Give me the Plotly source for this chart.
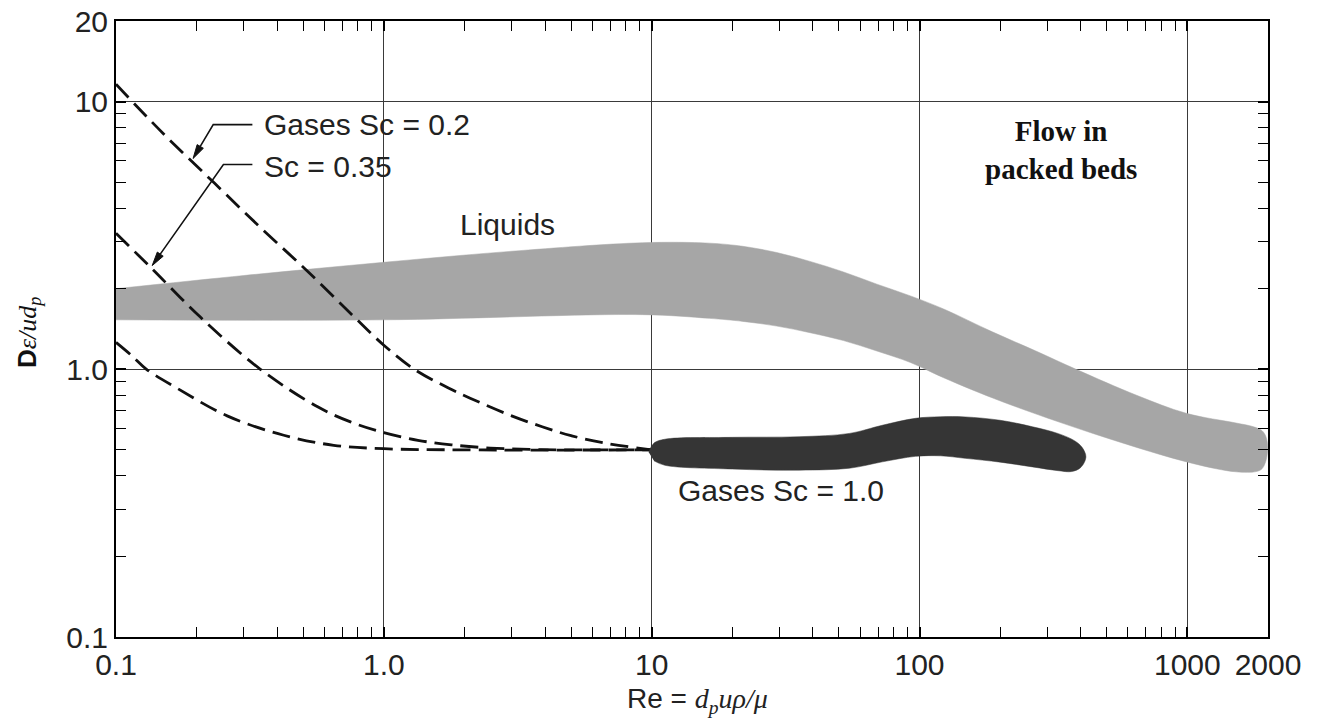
import numpy as np
import plotly.graph_objects as go

# ---------------- data ----------------
# dashed curves, gases at low Re
re_sc02 = [0.1, 0.15, 0.233, 0.35, 0.513, 0.75, 1.0, 1.3, 1.75, 2.1, 3.0, 3.9, 5.0, 6.7, 10.0]
de_sc02 = [11.6, 7.6, 4.96, 3.35, 2.35, 1.62, 1.23, 1.0, 0.85, 0.78, 0.67, 0.61, 0.565, 0.53, 0.5]

re_sc035 = [0.1, 0.136, 0.206, 0.346, 0.566, 0.751, 1.0, 1.34, 1.79, 2.5, 3.5, 5.0, 10.0]
de_sc035 = [3.22, 2.38, 1.57, 1.0, 0.724, 0.636, 0.58, 0.543, 0.522, 0.508, 0.502, 0.5, 0.5]

re_low = [0.1, 0.115, 0.13, 0.169, 0.26, 0.423, 0.65, 1.0, 2.0, 10.0]
de_low = [1.26, 1.12, 1.0, 0.85, 0.67, 0.567, 0.52, 0.505, 0.5, 0.5]

# Liquids band (upper and lower edge)
liq_up_re = [0.1, 0.3, 1.0, 3.0, 9.25, 16.4, 21.9, 29.3, 39, 52, 69.3, 92.5, 123, 187, 272, 384, 646, 990, 1520, 1766, 1900, 1965, 1995]
liq_up_de = [2.0, 2.24, 2.51, 2.76, 2.97, 2.96, 2.88, 2.73, 2.53, 2.31, 2.08, 1.88, 1.68, 1.38, 1.17, 1.0, 0.80, 0.685, 0.63, 0.61, 0.59, 0.56, 0.51]
liq_lo_re = [0.1, 1.0, 9.25, 16.4, 21.9, 29.3, 39, 52, 69.3, 92.5, 123, 205, 484, 1047, 1520, 1810, 1900, 1965]
liq_lo_de = [1.53, 1.53, 1.60, 1.55, 1.51, 1.45, 1.37, 1.28, 1.17, 1.06, 0.93, 0.755, 0.56, 0.445, 0.414, 0.415, 0.425, 0.455]

# Gases Sc = 1.0 band (upper and lower edge)
gas_up_re = [9.75, 10.2, 11.2, 20, 35.5, 54.7, 72.6, 96.6, 120, 148, 200, 264, 330, 380, 405, 418]
gas_up_de = [0.49, 0.53, 0.548, 0.557, 0.56, 0.576, 0.618, 0.656, 0.665, 0.664, 0.645, 0.61, 0.575, 0.54, 0.51, 0.47]
gas_lo_re = [10.2, 11.2, 20, 35.5, 54.7, 72.6, 96.6, 120, 148, 200, 264, 330, 370, 400]
gas_lo_de = [0.455, 0.438, 0.424, 0.42, 0.427, 0.451, 0.473, 0.475, 0.465, 0.45, 0.432, 0.418, 0.415, 0.43]

# axis ticks
x_tickvals = [0.1, 1, 10, 100, 1000, 2000]
x_ticktext = ["0.1", "1.0", "10", "100", "1000", "2000"]
y_tickvals = [0.1, 1, 10, 20]
y_ticktext = ["0.1", "1.0", "10", "20"]
x_minor = [k * 10.0 ** e for e in range(-1, 3) for k in range(2, 10)]
y_minor = [k * 10.0 ** e for e in range(-1, 1) for k in range(2, 10)]

# leader arrows (Re, De): arrow tip, corner, end next to label
lead_02 = dict(tip=(0.194, 6.13), corner=(0.2307, 8.2), end=(0.323, 8.2))
lead_035 = dict(tip=(0.1365, 2.44), corner=(0.2518, 5.82), end=(0.323, 5.82))

SANS = "Liberation Sans, Arial, sans-serif"
SERIF = "Liberation Serif, Times New Roman, serif"

W_FIG, H_FIG = 1320, 724
M = dict(l=116, r=52, t=21, b=87)
PW = W_FIG - M["l"] - M["r"]
PH = H_FIG - M["t"] - M["b"]
XR = [-1, float(np.log10(2000))]
YR = [-1, float(np.log10(20))]

fig = go.Figure()

def band(ux, uy, lx, ly, color):
    xs = list(ux) + list(lx)[::-1]
    ys = list(uy) + list(ly)[::-1]
    return go.Scatter(x=xs, y=ys, mode="lines", fill="toself", fillcolor=color,
                      line=dict(color=color, width=0.5, shape="spline", smoothing=1.0,
                                simplify=False),
                      hoverinfo="skip", showlegend=False)

fig.add_trace(band(liq_up_re, liq_up_de, liq_lo_re, liq_lo_de, "#a6a6a6"))

for xs, ys in [(re_sc02, de_sc02), (re_sc035, de_sc035), (re_low, de_low)]:
    fig.add_trace(go.Scatter(x=xs, y=ys, mode="lines",
                             line=dict(color="#111111", width=2.8, dash="18px,8px",
                                       shape="spline", smoothing=1.0, simplify=False),
                             hoverinfo="skip", showlegend=False))

fig.add_trace(band(gas_up_re, gas_up_de, gas_lo_re, gas_lo_de, "#353535"))

axis_common = dict(
    type="log", showline=True, linecolor="black", linewidth=2, mirror="ticks",
    ticks="inside", ticklen=10, tickwidth=1.5, tickcolor="black",
    showgrid=True, gridcolor="#3a3a3a", gridwidth=1.3, zeroline=False,
    tickfont=dict(family=SANS, size=30, color="#222222"),
    tickmode="array", automargin=False,
)

fig.update_xaxes(**axis_common, range=XR,
                 tickvals=x_tickvals, ticktext=x_ticktext,
                 minor=dict(tickmode="array", tickvals=x_minor, ticks="inside",
                            ticklen=10, tickwidth=1.3, tickcolor="black", showgrid=False))
fig.update_yaxes(**axis_common, range=YR,
                 tickvals=y_tickvals, ticktext=y_ticktext,
                 minor=dict(tickmode="array", tickvals=y_minor, ticks="inside",
                            ticklen=10, tickwidth=1.3, tickcolor="black", showgrid=False))

L = np.log10

def to_paper(re, de):
    return ((L(re) - XR[0]) / (XR[1] - XR[0]), (L(de) - YR[0]) / (YR[1] - YR[0]))

shapes = []
for ld in (lead_02, lead_035):
    tx, ty = to_paper(*ld["tip"])
    cx, cy = to_paper(*ld["corner"])
    ex, ey = to_paper(*ld["end"])
    # arrow head in pixel space
    dx, dy = (tx - cx) * PW, (ty - cy) * PH
    n = np.hypot(dx, dy)
    ux, uy = dx / n, dy / n
    hl, hw = 14.0, 3.6
    bx, by = tx * PW - ux * hl, ty * PH - uy * hl
    p1 = ((bx - uy * hw) / PW, (by + ux * hw) / PH)
    p2 = ((bx + uy * hw) / PW, (by - ux * hw) / PH)
    shapes.append(dict(type="path", xref="paper", yref="paper",
                       path=f"M {ex},{ey} L {cx},{cy} L {bx / PW},{by / PH}",
                       line=dict(color="#111111", width=1.6)))
    shapes.append(dict(type="path", xref="paper", yref="paper",
                       path=f"M {tx},{ty} L {p1[0]},{p1[1]} L {p2[0]},{p2[1]} Z",
                       fillcolor="#111111", line=dict(color="#111111", width=1)))

ann = []
txt_font = dict(family=SANS, size=30, color="#222222")
ann.append(dict(x=L(0.35), y=L(8.2), xref="x", yref="y", text="Gases Sc = 0.2",
                showarrow=False, xanchor="left", yanchor="middle", font=txt_font))
ann.append(dict(x=L(0.35), y=L(5.72), xref="x", yref="y", text="Sc = 0.35",
                showarrow=False, xanchor="left", yanchor="middle", font=txt_font))
ann.append(dict(x=L(2.9), y=L(3.47), xref="x", yref="y", text="Liquids",
                showarrow=False, xanchor="center", yanchor="middle", font=txt_font))
ann.append(dict(x=L(30.4), y=L(0.353), xref="x", yref="y", text="Gases Sc = 1.0",
                showarrow=False, xanchor="center", yanchor="middle", font=txt_font))
ann.append(dict(x=L(337), y=L(6.62), xref="x", yref="y", text="<b>Flow in<br>packed beds</b>",
                showarrow=False, xanchor="center", yanchor="middle",
                font=dict(family=SERIF, size=29, color="#111111")))

# axis titles
ann.append(dict(x=-0.0764, y=0.495, xref="paper", yref="paper", textangle=-90,
                text="<span style='font-family:Liberation Sans'><b>D</b></span><i>ε/ud</i><sub><i>p</i></sub>",
                showarrow=False, xanchor="center", yanchor="middle",
                font=dict(family=SERIF, size=26, color="#111111")))
ann.append(dict(x=0.505, y=-0.103, xref="paper", yref="paper",
                text="Re = <span style='font-family:Liberation Serif'><i>d</i><sub><i>p</i></sub><i>uρ/μ</i></span>",
                showarrow=False, xanchor="center", yanchor="middle",
                font=dict(family=SANS, size=28, color="#222222")))

fig.update_layout(
    width=W_FIG, height=H_FIG,
    margin=dict(l=M["l"], r=M["r"], t=M["t"], b=M["b"], autoexpand=False),
    paper_bgcolor="white", plot_bgcolor="white",
    annotations=ann, shapes=shapes, showlegend=False,
)

fig.write_html("out.html")
